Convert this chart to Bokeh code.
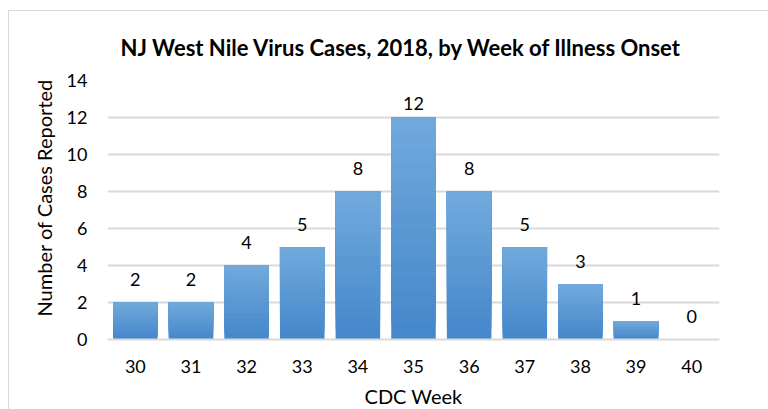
from bokeh.plotting import figure
from bokeh.models import ColumnDataSource, FactorRange, Range1d, FixedTicker, Title
from bokeh.core.properties import value
from bokeh.embed import file_html
from bokeh.resources import INLINE

weeks = ["30", "31", "32", "33", "34", "35", "36", "37", "38", "39", "40"]
cases = [2, 2, 4, 5, 8, 12, 8, 5, 3, 1, 0]
y_ticks = [0, 2, 4, 6, 8, 10, 12, 14]
y_max = 14

FONT = "Lato"

p = figure(
    x_range=FactorRange(factors=weeks, range_padding=0),
    y_range=Range1d(0, y_max),
    width=760, height=399,
    output_backend="svg", toolbar_location=None,
    min_border_left=98, min_border_right=50, min_border_top=69, min_border_bottom=70,
)
p.styles = {"border-top": "1px solid #d9d9d9", "border-left": "1px solid #d9d9d9",
            "box-sizing": "border-box", "margin-left": "8px", "margin-top": "10px"}

# gradient-like bars: overlapping layers from bottom to top
top_c = (0x70, 0xA8, 0xDC)
bot_c = (0x45, 0x88, 0xCB)
N = 14
for k in range(N):
    t = k / (N - 1)
    col = "#%02x%02x%02x" % tuple(int(round(b + (a - b) * t)) for a, b in zip(top_c, bot_c))
    src = ColumnDataSource(dict(x=weeks, top=cases, bottom=[v * k / N for v in cases]))
    p.vbar(x="x", top="top", bottom="bottom", width=0.8, source=src,
           fill_color=col, line_color=None)

# data labels kept inside the plot area (as the spreadsheet does)
label_y = [min(v, y_max - 2.5) for v in cases]
lab = ColumnDataSource(dict(x=weeks, y=label_y, t=[str(v) for v in cases]))
p.text(x="x", y="y", text="t", source=lab, text_align="center", text_baseline="middle",
       y_offset=-23, text_font=value(FONT), text_font_size="18px", text_color="#000000")

p.title = Title(text="NJ West Nile Virus Cases, 2018, by Week of Illness Onset",
                align="left", offset=13, standoff=40,
                text_font=FONT, text_font_size="22px", text_font_style="bold",
                text_color="#000000")
p.add_layout(Title(text="Number of Cases Reported", align="left", offset=23, standoff=15,
                   text_font=FONT, text_font_size="20px", text_font_style="normal",
                   text_color="#000000"), "left")

p.yaxis.ticker = FixedTicker(ticks=y_ticks)
p.yaxis.axis_line_color = None
p.yaxis.major_tick_line_color = None
p.yaxis.minor_tick_line_color = None
p.yaxis.major_label_standoff = 14
p.yaxis.major_label_text_font = FONT
p.yaxis.major_label_text_font_size = "18px"
p.yaxis.major_label_text_color = "#000000"

p.xaxis.axis_line_color = "#d9d9d9"
p.xaxis.axis_line_width = 2
p.xaxis.major_tick_line_color = None
p.xaxis.minor_tick_line_color = None
p.xaxis.major_label_standoff = 14
p.xaxis.major_label_text_font = FONT
p.xaxis.major_label_text_font_size = "18px"
p.xaxis.major_label_text_color = "#000000"
p.xaxis.axis_label = "CDC Week"
p.xaxis.axis_label_text_font = FONT
p.xaxis.axis_label_text_font_size = "20px"
p.xaxis.axis_label_text_font_style = "normal"
p.xaxis.axis_label_text_color = "#000000"
p.xaxis.axis_label_standoff = 8

p.xgrid.grid_line_color = None
p.ygrid.grid_line_color = "#d9d9d9"
p.ygrid.grid_line_width = 2
p.outline_line_color = None
p.background_fill_color = "white"
p.border_fill_color = "white"

open("out.html", "w").write(file_html(p, INLINE))
